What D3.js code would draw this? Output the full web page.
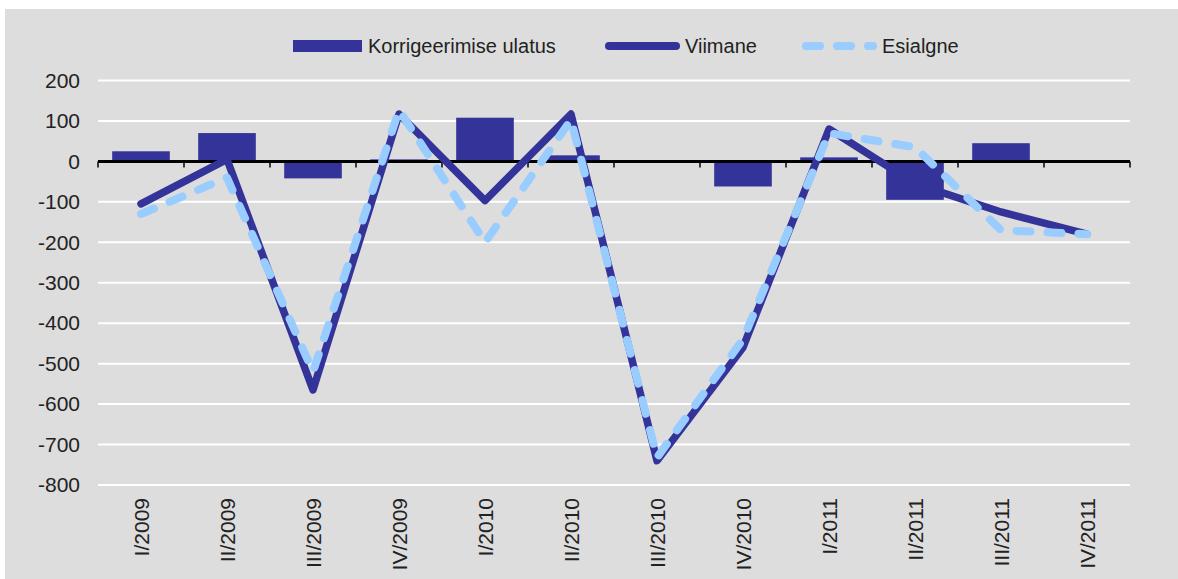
<!DOCTYPE html>
<html>
<head>
<meta charset="utf-8">
<script src="https://cdn.jsdelivr.net/npm/d3@7"></script>
<style>
  body { margin: 0; background: #fff; }
  svg { display: block; font-family: "Liberation Sans", Arial, sans-serif; }
</style>
</head>
<body>
<div id="chart"></div>
<script>
var categories = ["I/2009", "II/2009", "III/2009", "IV/2009", "I/2010", "II/2010",
                  "III/2010", "IV/2010", "I/2011", "II/2011", "III/2011", "IV/2011"];
var korrigeerimine = [25, 70, -42, 5, 108, 15, 0, -62, 10, -95, 45, 0];
var viimane = [-105, 5, -565, 117, -97, 117, -740, -460, 80, -55, -125, -180];
var esialgne = [-130, -40, -520, 127, -200, 103, -732, -440, 70, 35, -170, -180];
var yTicks = [200, 100, 0, -100, -200, -300, -400, -500, -600, -700, -800];

var width = 1178, height = 579;
var margin = {left: 98, right: 48, top: 80, bottom: 94};

var svg = d3.select('#chart').append('svg')
  .attr('width', width)
  .attr('height', height);

svg.append('rect')
  .attr('x', 5).attr('y', 9)
  .attr('width', width - 5).attr('height', height - 9)
  .attr('fill', '#dddddd');

var x = d3.scaleBand()
  .domain(categories)
  .range([margin.left, width - margin.right])
  .paddingInner(0.33)
  .paddingOuter(0.165);

var xBand = d3.scaleBand()
  .domain(categories)
  .range([margin.left, width - margin.right]);

var y = d3.scaleLinear()
  .domain([-800, 200])
  .range([height - margin.bottom, margin.top + 0.5]);

// grid
svg.append('g').selectAll('line')
  .data(yTicks.filter(function(d) { return d !== 0; }))
  .enter().append('line')
  .attr('x1', margin.left).attr('x2', width - margin.right)
  .attr('y1', function(d) { return y(d); })
  .attr('y2', function(d) { return y(d); })
  .attr('stroke', '#ffffff')
  .attr('stroke-width', 2);

// y labels
var yAxis = svg.append('g')
  .attr('transform', 'translate(' + margin.left + ',0)')
  .call(d3.axisLeft(y).tickValues(yTicks).tickSize(0).tickPadding(18)
    .tickFormat(function(d) { return String(d); }));
yAxis.select('.domain').remove();
yAxis.selectAll('text')
  .attr('font-size', 21)
  .attr('fill', '#222')
  .attr('font-family', '"Liberation Sans", Arial, sans-serif');

// bars
svg.append('g').selectAll('rect')
  .data(korrigeerimine)
  .enter().append('rect')
  .attr('x', function(d, i) { return x(categories[i]); })
  .attr('width', x.bandwidth())
  .attr('y', function(d) { return y(Math.max(0, d)); })
  .attr('height', function(d) { return Math.abs(y(d) - y(0)); })
  .attr('fill', '#333399');

// zero axis with tick marks at band edges
var xAxis = svg.append('g')
  .attr('transform', 'translate(0,' + y(0) + ')');
xAxis.append('line')
  .attr('x1', margin.left).attr('x2', width - margin.right)
  .attr('stroke', '#000').attr('stroke-width', 3);
var edges = categories.map(function(c) { return xBand(c); }).concat([width - margin.right]);
xAxis.selectAll('.tk')
  .data(edges)
  .enter().append('line')
  .attr('class', 'tk')
  .attr('x1', function(d) { return d; }).attr('x2', function(d) { return d; })
  .attr('y1', 0).attr('y2', 6)
  .attr('stroke', '#000').attr('stroke-width', 1.5);

// lines
var line = d3.line()
  .x(function(d, i) { return xBand(categories[i]) + xBand.bandwidth() / 2; })
  .y(function(d) { return y(d); });

svg.append('path')
  .datum(viimane)
  .attr('d', line)
  .attr('fill', 'none')
  .attr('stroke', '#333399')
  .attr('stroke-width', 7.5)
  .attr('stroke-linejoin', 'round')
  .attr('stroke-linecap', 'round');

svg.append('path')
  .datum(esialgne)
  .attr('d', line)
  .attr('fill', 'none')
  .attr('stroke', '#99ccff')
  .attr('stroke-width', 8)
  .attr('stroke-dasharray', '14,17')
  .attr('stroke-linejoin', 'round')
  .attr('stroke-linecap', 'round');

// category labels
svg.append('g').selectAll('text')
  .data(categories)
  .enter().append('text')
  .attr('transform', function(d) {
    return 'translate(' + (xBand(d) + xBand.bandwidth() / 2 + 8) + ',' + 498 + ') rotate(-90)';
  })
  .attr('text-anchor', 'end')
  .attr('font-size', 21)
  .attr('fill', '#222')
  .text(function(d) { return d; });

// legend
var legend = svg.append('g')
  .attr('font-size', 20)
  .attr('fill', '#222');
legend.append('rect')
  .attr('x', 293).attr('y', 40).attr('width', 69).attr('height', 12)
  .attr('fill', '#333399');
legend.append('text').attr('x', 368).attr('y', 53).text('Korrigeerimise ulatus');
legend.append('line')
  .attr('x1', 609).attr('x2', 676).attr('y1', 46).attr('y2', 46)
  .attr('stroke', '#333399').attr('stroke-width', 8).attr('stroke-linecap', 'round');
legend.append('text').attr('x', 685).attr('y', 53).text('Viimane');
legend.append('line')
  .attr('x1', 806).attr('x2', 873).attr('y1', 46).attr('y2', 46)
  .attr('stroke', '#99ccff').attr('stroke-width', 8)
  .attr('stroke-dasharray', '14,17').attr('stroke-linecap', 'round');
legend.append('text').attr('x', 882).attr('y', 53).text('Esialgne');
</script>
</body>
</html>
